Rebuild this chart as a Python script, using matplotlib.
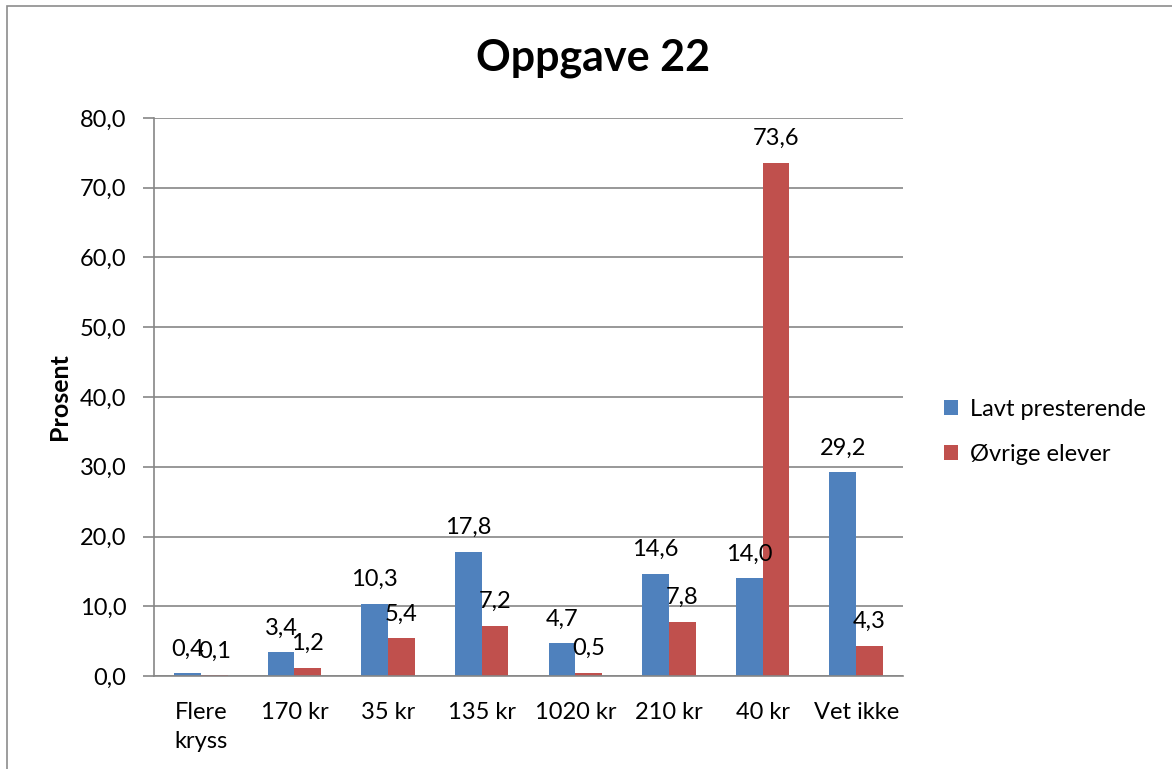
import matplotlib.pyplot as plt
import numpy as np
from matplotlib.patches import Rectangle

categories = ['Flere\nkryss', '170 kr', '35 kr', '135 kr', '1020 kr', '210 kr', '40 kr', 'Vet ikke']
lavt = [0.4, 3.4, 10.3, 17.8, 4.7, 14.6, 14.0, 29.2]
ovrige = [0.1, 1.2, 5.4, 7.2, 0.5, 7.8, 73.6, 4.3]
series_names = ['Lavt presterende', 'Øvrige elever']
yticks = [0, 10, 20, 30, 40, 50, 60, 70, 80]

plt.rcParams['font.family'] = ['Lato', 'DejaVu Sans']

fig = plt.figure(figsize=(11.72, 7.69), dpi=100)
ax = fig.add_axes([0.1314, 0.1209, 0.7705 - 0.1314, 0.8466 - 0.1209])

# outer chart border (Excel chart area)
fig.patches.append(Rectangle((7 / 1172, -0.05), 1.2, 1 - 6 / 769 + 0.05, transform=fig.transFigure,
                             fill=False, edgecolor='#8c8c8c', linewidth=1.2))

x = np.arange(len(categories))
w = 0.286
b1 = ax.bar(x - w / 2, lavt, w, color='#4F81BD', label=series_names[0])
b2 = ax.bar(x + w / 2, ovrige, w, color='#C0504D', label=series_names[1])

for bars, vals in ((b1, lavt), (b2, ovrige)):
    for r, v in zip(bars, vals):
        ax.annotate(('%.1f' % v).replace('.', ','), (r.get_x() + r.get_width() / 2, v),
                    xytext=(0, 10), textcoords='offset points', ha='center', va='bottom', fontsize=17)

ax.set_xlim(-0.5, len(categories) - 0.5)
ax.set_ylim(0, 80)
ax.set_yticks(yticks)
ax.set_yticklabels([('%.1f' % t).replace('.', ',') for t in yticks], fontsize=17)
ax.set_xticks(x)
ax.set_xticklabels(categories, fontsize=17, va='top', linespacing=1.45)
ax.tick_params(axis='x', length=0, pad=19)
ax.tick_params(axis='y', length=8, color='#868686', width=1.2, pad=12)

ax.grid(axis='y', color='#868686', linewidth=1.2)
ax.set_axisbelow(True)
for s in ('top', 'right'):
    ax.spines[s].set_visible(False)
for s in ('left', 'bottom'):
    ax.spines[s].set_color('#868686')
    ax.spines[s].set_linewidth(1.2)

ax.set_ylabel('Prosent', fontsize=18, fontweight='bold', labelpad=6)
fig.text(593 / 1172, 1 - 58 / 769, 'Oppgave 22', ha='center', va='center', fontsize=31, fontweight='bold')

fig.legend(handles=[b1, b2], loc='center left', bbox_to_anchor=(923 / 1172, 1 - 432 / 769),
           frameon=False, fontsize=17, handlelength=0.6, handleheight=0.6, labelspacing=1.0,
           handletextpad=0.5)

plt.savefig('out.png', dpi=100)
